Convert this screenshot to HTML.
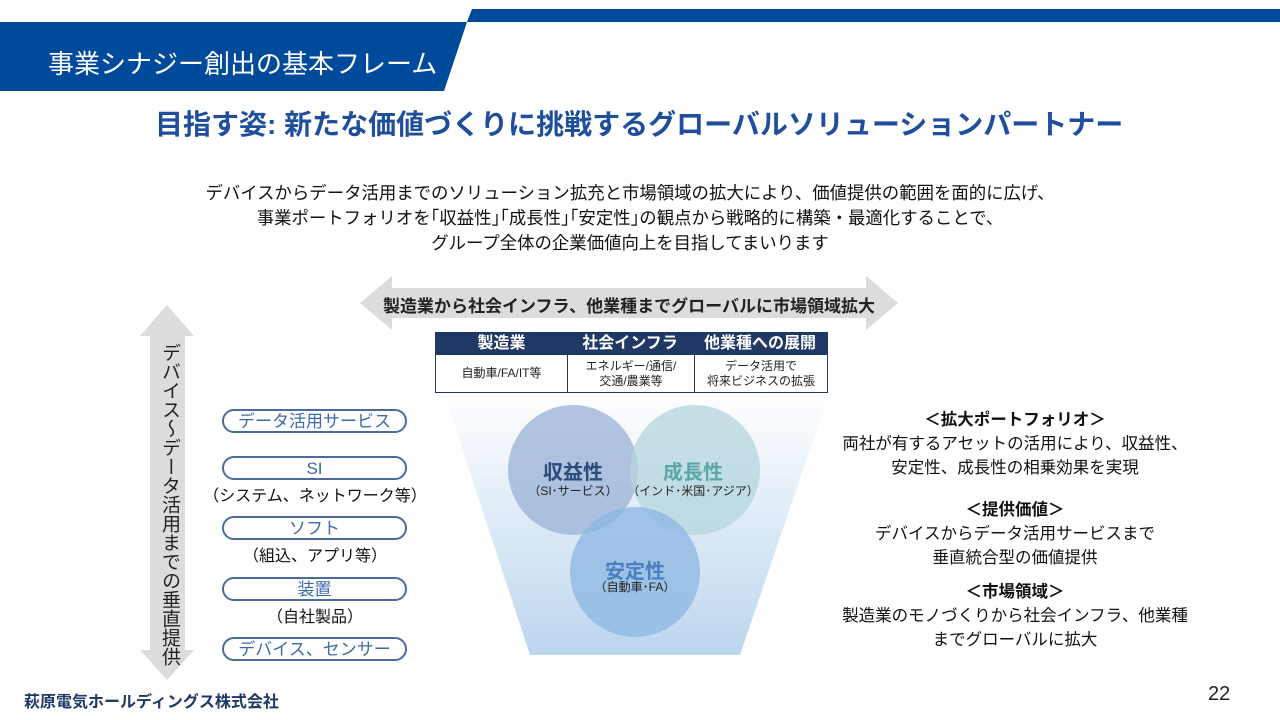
<!DOCTYPE html>
<html><head><meta charset="utf-8"><style>
body{margin:0;width:1280px;height:720px;position:relative;background:#fff;overflow:hidden;font-family:"Liberation Sans","Noto Sans CJK JP",sans-serif;}
.a{position:absolute;}
.c{text-align:center;}
.pill{position:absolute;left:222px;width:185px;height:24px;border:2px solid #4a6b9c;border-radius:13px;box-sizing:border-box;color:#3d6aa8;font-size:17px;line-height:21px;text-align:center;}
.sub{position:absolute;left:200px;width:230px;text-align:center;font-size:16px;color:#111;}
</style></head><body>
<svg class="a" style="left:0;top:0" width="1280" height="720">
<defs>
<linearGradient id="fg" x1="0" y1="0" x2="0" y2="1"><stop offset="0" stop-color="#ffffff"/><stop offset="1" stop-color="#bcd6ee"/></linearGradient>
</defs>
<polygon points="472,9 1280,9 1280,22 467,22" fill="#004a9c"/>
<polygon points="0,22 467,22 444,91 0,91" fill="#004a9c"/>
<polygon points="443,390 830,390 740,655 530,655" fill="url(#fg)"/>
<circle cx="573" cy="470" r="65" fill="#98b2d6" fill-opacity="0.75"/>
<circle cx="695" cy="470" r="65" fill="#b4d6dc" fill-opacity="0.75"/>
<circle cx="635" cy="572" r="65" fill="#8bb7e2" fill-opacity="0.75"/>
<polygon points="360,303 392,276 392,288 866,288 866,276 898,303 866,330 866,318 392,318 392,330" fill="#dcdcdc"/>
<polygon points="167,305 194,336 185,336 185,650 194,650 167,680 140,650 150,650 150,336 140,336" fill="#dcdcdc"/>
</svg>
<div class="a" style="left:48px;top:44px;color:#fff;font-size:26px;">事業シナジー創出の基本フレーム</div>
<div class="a" style="left:155px;top:103px;color:#1f4e9c;font-size:28px;font-weight:bold;">目指す姿: 新たな価値づくりに挑戦するグローバルソリューションパートナー</div>
<div class="a c" style="left:130px;width:1000px;top:181px;font-size:17.4px;line-height:25px;color:#111;">デバイスからデータ活用までのソリューション拡充と市場領域の拡大により、価値提供の範囲を面的に広げ、<br>事業ポートフォリオを｢収益性｣｢成長性｣｢安定性｣の観点から戦略的に構築・最適化することで、<br>グループ全体の企業価値向上を目指してまいります</div>
<div class="a c" style="left:360px;width:538px;top:292px;font-size:17px;font-weight:bold;color:#222;">製造業から社会インフラ、他業種までグローバルに市場領域拡大</div>
<div class="a" style="left:156px;top:343px;width:24px;font-size:19px;line-height:22px;color:#222;writing-mode:vertical-rl;">デバイス～データ活用までの垂直提供</div>
<div class="a" style="left:435px;top:332px;width:393px;height:61px;border:1px solid #1f3864;box-sizing:border-box;background:#fff;">
<div style="display:flex;height:22px;background:#1f3864;color:#fff;font-size:16px;line-height:22px;text-align:center;font-weight:bold;">
<div style="width:131px">製造業</div><div style="width:126px">社会インフラ</div><div style="flex:1">他業種への展開</div></div>
<div style="display:flex;height:37px;font-size:12px;line-height:15px;text-align:center;color:#222;">
<div style="width:131px;border-right:1px solid #1f3864;display:flex;align-items:center;justify-content:center">自動車/FA/IT等</div>
<div style="width:126px;border-right:1px solid #1f3864;display:flex;align-items:center;justify-content:center">エネルギー/通信/<br>交通/農業等</div>
<div style="flex:1;display:flex;align-items:center;justify-content:center">データ活用で<br>将来ビジネスの拡張</div></div></div>
<div class="a c" style="left:513px;width:120px;top:456px;font-size:20px;font-weight:bold;color:#2c4a7c;">収益性</div>
<div class="a c" style="left:513px;width:120px;top:482px;font-size:12px;color:#222;">（SI･サービス）</div>
<div class="a c" style="left:633px;width:120px;top:456px;font-size:20px;font-weight:bold;color:#5aa7a8;">成長性</div>
<div class="a c" style="left:623px;width:140px;top:482px;font-size:12px;color:#222;">（インド･米国･アジア）</div>
<div class="a c" style="left:575px;width:120px;top:555px;font-size:20px;font-weight:bold;color:#4a7fc0;">安定性</div>
<div class="a c" style="left:575px;width:120px;top:578px;font-size:12px;color:#222;">（自動車･FA）</div>
<div class="pill" style="top:409px">データ活用サービス</div>
<div class="pill" style="top:456px">SI</div>
<div class="sub" style="top:482px">（システム、ネットワーク等）</div>
<div class="pill" style="top:516px">ソフト</div>
<div class="sub" style="top:542px">（組込、アプリ等）</div>
<div class="pill" style="top:577px">装置</div>
<div class="sub" style="top:603px">（自社製品）</div>
<div class="pill" style="top:637px">デバイス、センサー</div>
<div class="a c" style="left:830px;width:370px;top:408px;font-size:16.5px;line-height:24px;color:#111;"><b>＜拡大ポートフォリオ＞</b><br>両社が有するアセットの活用により、収益性、<br>安定性、成長性の相乗効果を実現</div>
<div class="a c" style="left:830px;width:370px;top:498px;font-size:16.5px;line-height:24px;color:#111;"><b>＜提供価値＞</b><br>デバイスからデータ活用サービスまで<br>垂直統合型の価値提供</div>
<div class="a c" style="left:830px;width:370px;top:580px;font-size:16.5px;line-height:24px;color:#111;"><b>＜市場領域＞</b><br>製造業のモノづくりから社会インフラ、他業種<br>までグローバルに拡大</div>
<div class="a" style="left:24px;top:688px;font-size:16px;font-weight:bold;color:#1f3864;">萩原電気ホールディングス株式会社</div>
<div class="a" style="left:1208px;top:683px;font-size:20px;color:#222;">22</div>
</body></html>
